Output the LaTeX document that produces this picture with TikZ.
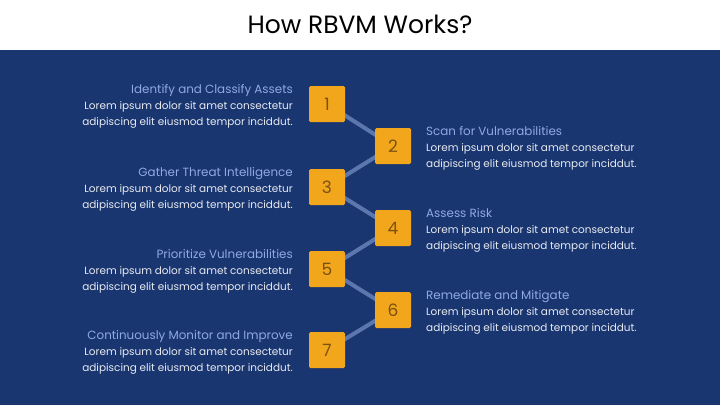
\documentclass[tikz,border=0pt]{standalone}
\usepackage{fontspec}
\setmainfont{Poppins}
\definecolor{bgblue}{HTML}{1A3670}
\definecolor{boxor}{HTML}{F2A61C}
\definecolor{numc}{HTML}{7A5210}
\definecolor{linkc}{HTML}{5B77AD}
\definecolor{headc}{HTML}{8FA9E6}
\definecolor{bodyc}{HTML}{E8EAF0}
\tikzset{
  stepbox/.style={fill=boxor, rounded corners=1.5pt, minimum size=36pt, inner sep=0pt, font=\fontsize{17}{17}\selectfont, text=numc},
  link/.style={draw=linkc, line width=4pt},
  headL/.style={anchor=base east, text=headc, font=\fontsize{11.9}{13}\selectfont, inner sep=0pt},
  headR/.style={anchor=base west, text=headc, font=\fontsize{11.9}{13}\selectfont, inner sep=0pt},
  bodyL/.style={anchor=north east, align=right, text=bodyc, font=\fontsize{10.45}{15.7}\selectfont, inner sep=0pt},
  bodyR/.style={anchor=north west, align=left, text=bodyc, font=\fontsize{10.45}{15.7}\selectfont, inner sep=0pt},
}
\newcommand{\lorem}{Lorem ipsum dolor sit amet consectetur\\adipiscing elit eiusmod tempor inciddut.}
\begin{document}
\begin{tikzpicture}[x=1pt,y=-1pt]
\useasboundingbox (0,0) rectangle (720,405);
\fill[bgblue] (0,0) rectangle (720,405);
\fill[white] (0,0) rectangle (720,50);
\node[anchor=base, inner sep=0pt, font=\fontsize{25}{25}\selectfont, text=black] (title) at (360,33) {How RBVM Works?};
% boxes
\coordinate (c1) at (327,104);
\coordinate (c2) at (393,146);
\coordinate (c3) at (327,187);
\coordinate (c4) at (393,228);
\coordinate (c5) at (327,269);
\coordinate (c6) at (393,310);
\coordinate (c7) at (327,350);
\draw[link] (c1) -- (c2) -- (c3) -- (c4) -- (c5) -- (c6) -- (c7);
\foreach \i in {1,...,7} { \node[stepbox] (b\i) at (c\i) {\i}; }
% left texts
\node[headL] (h1) at (293,93.5) {Identify and Classify Assets};
\node[bodyL] (t1) at (293,101.5) {\lorem};
\node[headL] (h3) at (293,176.5) {Gather Threat Intelligence};
\node[bodyL] (t3) at (293,184.5) {\lorem};
\node[headL] (h5) at (293,258.5) {Prioritize Vulnerabilities};
\node[bodyL] (t5) at (293,266.5) {\lorem};
\node[headL] (h7) at (293,339.5) {Continuously Monitor and Improve};
\node[bodyL] (t7) at (293,347.5) {\lorem};
% right texts
\node[headR] (h2) at (426,135.5) {Scan for Vulnerabilities};
\node[bodyR] (t2) at (426,143.5) {\lorem};
\node[headR] (h4) at (426,217.5) {Assess Risk};
\node[bodyR] (t4) at (426,225.5) {\lorem};
\node[headR] (h6) at (426,299.5) {Remediate and Mitigate};
\node[bodyR] (t6) at (426,307.5) {\lorem};
\end{tikzpicture}
\end{document}
